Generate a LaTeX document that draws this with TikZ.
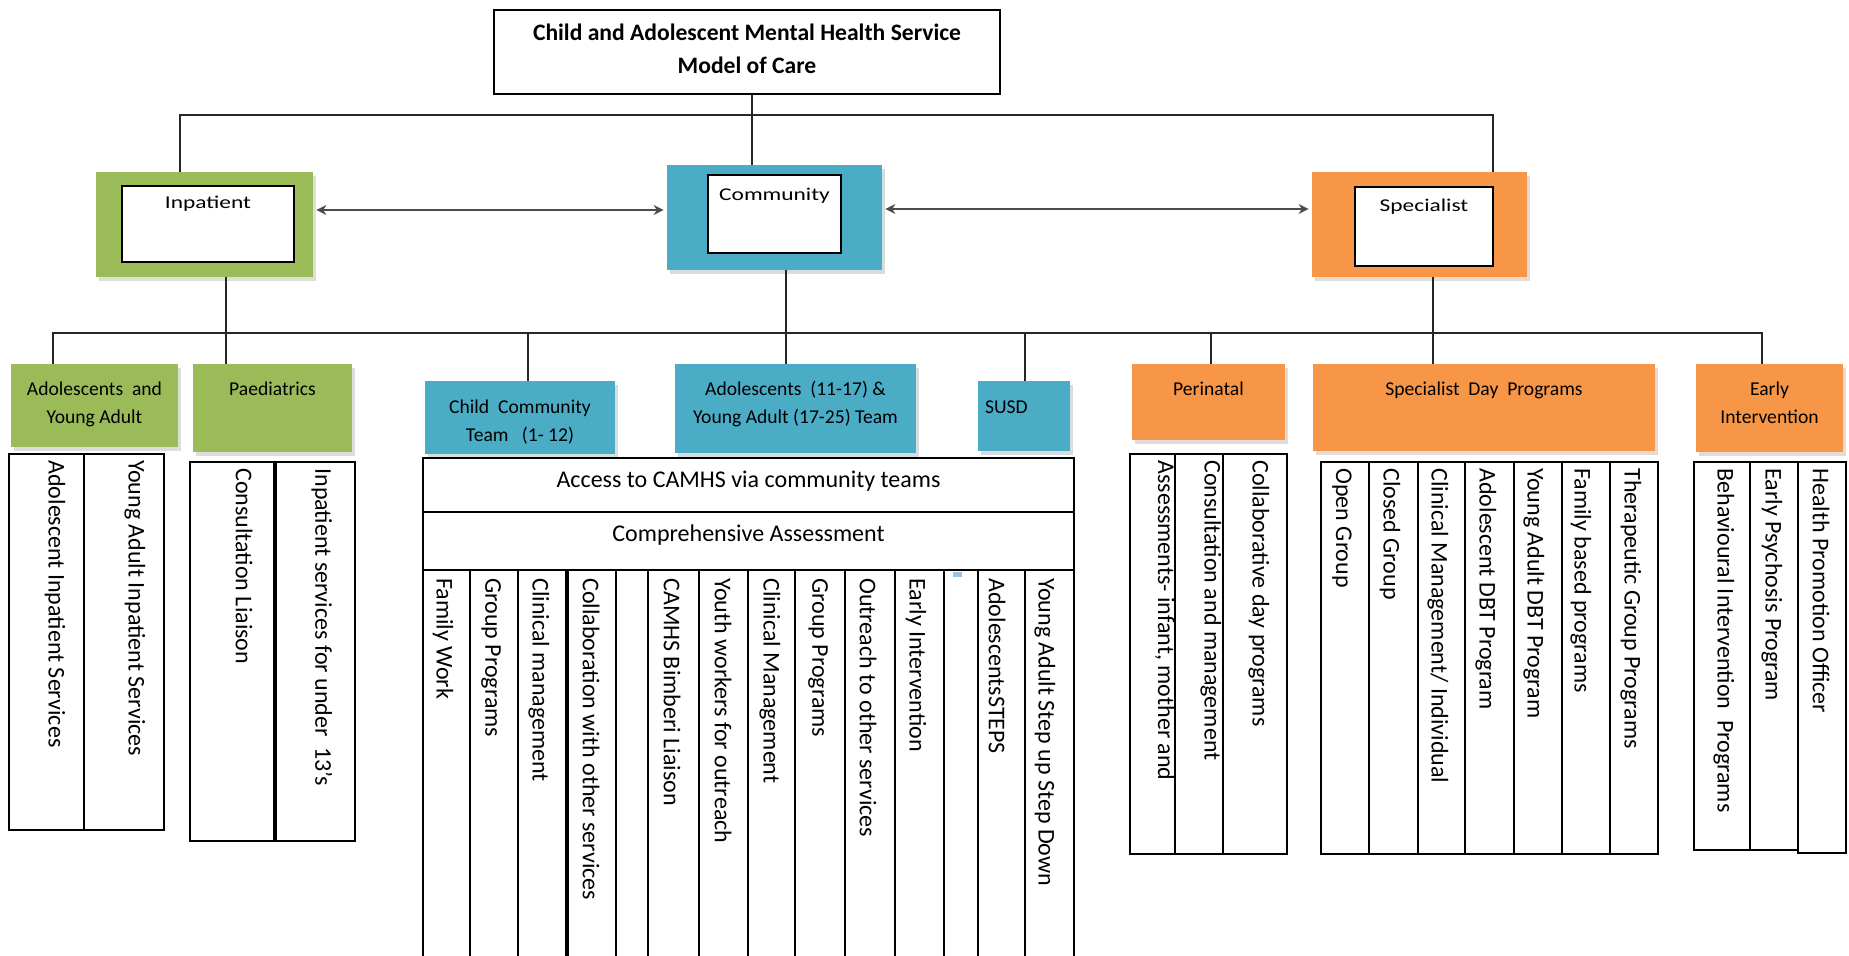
\documentclass[tikz,border=0pt]{standalone}
\usepackage{fontspec}
\setmainfont{Carlito}
\newfontfamily\widefont[FakeStretch=1.3]{Carlito}
\usetikzlibrary{arrows.meta,calc,positioning,fit,shadows}
\definecolor{inpgreen}{HTML}{9BBB59}
\definecolor{commblue}{HTML}{4BACC6}
\definecolor{specorange}{HTML}{F79646}
\definecolor{markblue}{HTML}{9DC3E6}

\begin{document}
\begin{tikzpicture}[
		x=0.5pt, y=-0.5pt,
		>=Stealth,
		font=\fontsize{12pt}{14pt}\selectfont,
		colbox/.style={fill=#1, draw=none, inner sep=0pt,
				drop shadow={shadow xshift=1.5pt, shadow yshift=-2pt, opacity=1,
						fill=#1!40!black!18}},
		whitebox/.style={fill=white, draw=black, line width=1.2pt, inner sep=0pt},
		tablebox/.style={draw=black, line width=1pt, inner sep=0pt},
		rule/.style={line width=1pt},
		thickrule/.style={line width=2.2pt},
		link/.style={line width=0.8pt, draw=black!85},
		twoway/.style={{Stealth[length=5pt,width=5pt]}-{Stealth[length=5pt,width=5pt]},
				line width=1pt, draw=black!70, shorten <=1.5pt, shorten >=1.5pt},
		toplbl/.style={font=\widefont\fontsize{9pt}{14pt}\selectfont, inner sep=0pt,
				execute at begin node=\strut},
		lbl/.style={font=\fontsize{9.8pt}{14pt}\selectfont, inner sep=0pt,
				align=center, execute at begin node=\strut},
		coltext/.style={rotate=-90, anchor=west, inner sep=0pt},
	]
	\useasboundingbox (0,0) rectangle (1849,956);

	% title
	\node[whitebox, fit={(494,10) (1000,94)}] (title) {};
	\node[font=\bfseries\fontsize{11.8pt}{16.5pt}\selectfont, align=center, inner sep=0pt]
	(titleL) at ([yshift=1.75pt]title.center)
	{Child and Adolescent Mental Health Service\\Model of Care};

	% first level
	\node[colbox=inpgreen, fit={(96,172) (313,277)}] (inp) {};
	\node[whitebox, fit={(122,186) (294,262)}] (inpW) {};
	\node[toplbl, below=2.1pt of inpW.north] (inpL) {Inpatient};

	\node[colbox=commblue, fit={(667,165) (882,270)}] (comm) {};
	\node[whitebox, fit={(708,175) (841,253)}] (commW) {};
	\node[toplbl, below=3.6pt of commW.north] (commL) {Community};

	\node[colbox=specorange, fit={(1312,172) (1527,277)}] (spec) {};
	\node[whitebox, fit={(1355,187) (1493,266)}] (specW) {};
	\node[toplbl, below=3pt of specW.north] (specL) {Specialist};

	% second level
	\node[colbox=inpgreen, fit={(11,364) (178,447)}] (aya) {};
	\node[lbl, below=8.8pt of aya.north] (ayaL) {Adolescents\ \ and\\Young Adult};
	\node[colbox=inpgreen, fit={(193,364) (352,452)}] (paed) {};
	\node[lbl, below=5.8pt of paed.north] (paedL) {Paediatrics};

	\node[colbox=commblue, fit={(425,381) (615,454)}] (child) {};
	\node[lbl, below=9.5pt of child.north] (childL) {Child\ \ Community\\Team\ \ \ (1- 12)};
	\node[colbox=commblue, fit={(675,364) (916,453)}] (adolt) {};
	\node[lbl, below=8.8pt of adolt.north] (adoltL)
	{Adolescents\ \ (11-17)\ \&\\Young Adult\ (17-25)\ Team};
	\node[colbox=commblue, fit={(978,381) (1070,451)}] (susd) {};
	\node[lbl, below right=6.5pt and 3.5pt of susd.north west] (susdL) {SUSD};

	\node[colbox=specorange, fit={(1132,364) (1285,440)}] (peri) {};
	\node[lbl, below=5.8pt of peri.north] (periL) {Perinatal};
	\node[colbox=specorange, fit={(1313,364) (1655,451)}] (sdp) {};
	\node[lbl, below=5.8pt of sdp.north] (sdpL) {Specialist\ \ Day\ \ Programs};
	\node[colbox=specorange, fit={(1696,364) (1843,452)}] (ei) {};
	\node[lbl, below=8.8pt of ei.north] (eiL) {Early\\Intervention};

	% connectors
	\coordinate (busTL) at (180,115);
	\coordinate (busTR) at (1493,115);
	\coordinate (busTM) at (752,115);
	\draw[link] (inp.north -| busTL) -- (busTL) -- (busTR) -- (spec.north -| busTR);
	\draw[link] (title.south -| busTM) -- (comm.north -| busTM);

	\coordinate (arrA) at (0,210);
	\coordinate (arrB) at (0,209);
	\draw[twoway] (inp.east |- arrA) -- (comm.west |- arrA);
	\draw[twoway] (comm.east |- arrB) -- (spec.west |- arrB);

	\coordinate (busBL) at (53,333);
	\coordinate (busBR) at (1762,333);
	\draw[link] (aya.north -| busBL) -- (busBL) -- (busBR) -- (ei.north -| busBR);
	\draw[link] (inp.south -| 226,0) -- (paed.north -| 226,0);
	\draw[link] (comm.south -| 786,0) -- (adolt.north -| 786,0);
	\draw[link] (spec.south -| 1433,0) -- (sdp.north -| 1433,0);
	\foreach \sx/\to in {528/child, 1025/susd, 1211/peri}
	\draw[link] (\sx,333) -- (\to.north -| \sx,0);

	% inpatient tables
	\node[tablebox, fit={(9,454) (164,830)}] (ayaT) {};
	\draw[rule] (84,454) -- (84,830);
	\foreach \cx/\txt in {55/Adolescent Inpatient Services, 135/Young Adult Inpatient Services}
	\node[coltext] at (\cx,460) {\txt};

	\node[tablebox, fit={(190,462) (355,841)}] (paedT) {};
	\draw[thickrule] (275,462) -- (275,841);
	\foreach \cx/\txt in {244/Consultation Liaison, 322/Inpatient services for under\ \ 13's}
	\node[coltext] at (\cx,468) {\txt};

	% community table
	\node[fit={(423,458) (1074,956)}, inner sep=0pt] (commT) {};
	\draw[rule] (commT.south west) -- (commT.north west) -- (commT.north east) -- (commT.south east);
	\draw[rule] (423,512) -- (1074,512);
	\draw[rule] (423,570) -- (1074,570);
	\node (rowAL) at (748.5,481) {Access to CAMHS via community teams};
	\node (rowBL) at (748.5,535) {Comprehensive Assessment};
	\foreach \dx in {470,518,616,648,699,748,795,845,895,944,978,1025}
	\draw[rule] (\dx,570) -- (\dx,956);
	\draw[thickrule] (567,570) -- (567,956);
	\fill[markblue] (953,572) rectangle (962,577);
	\foreach \cx/\txt in {443/Family Work, 491/Group Programs, 539/Clinical management,
			591/Collaboration with other services, 672/CAMHS Bimberi Liaison,
			723/Youth workers for outreach, 770/Clinical Management, 818/Group Programs,
			868/Outreach to other services, 916/Early Intervention, 997/AdolescentsSTEPS,
			1045/Young Adult Step up Step Down}
	\node[coltext] at (\cx,578) {\txt};

	% specialist tables
	\node[tablebox, fit={(1130,454) (1287,854)}] (periT) {};
	\foreach \dx in {1175,1223}
	\draw[rule] (\dx,454) -- (\dx,854);
	\foreach \cx/\txt in {1165/{Assessments- infant, mother and}, 1211/Consultation and management,
			1259/Collaborative day programs}
	\node[coltext] at (\cx,460) {\txt};

	\node[tablebox, fit={(1321,462) (1658,854)}] (sdpT) {};
	\foreach \dx in {1369,1418,1465,1514,1562,1610}
	\draw[rule] (\dx,462) -- (\dx,854);
	\foreach \cx/\txt in {1342/Open Group, 1390/Closed Group, 1438/{Clinical Management/ Individual},
			1486/Adolescent DBT Program, 1534/Young Adult DBT Program,
			1581/Family based programs, 1631/Therapeutic Group Programs}
	\node[coltext] at (\cx,468) {\txt};

	\node[tablebox, fit={(1694,462) (1798,850)}] (eiT) {};
	\node[tablebox, fit={(1798,462) (1846,853)}] (eiTc) {};
	\draw[rule] (1750,462) -- (1750,850);
	\foreach \cx/\txt in {1724/Behavioural Intervention\ \ Programs, 1772/Early Psychosis Program,
			1821/Health Promotion Officer}
	\node[coltext] at (\cx,468) {\txt};

\end{tikzpicture}
\end{document}
